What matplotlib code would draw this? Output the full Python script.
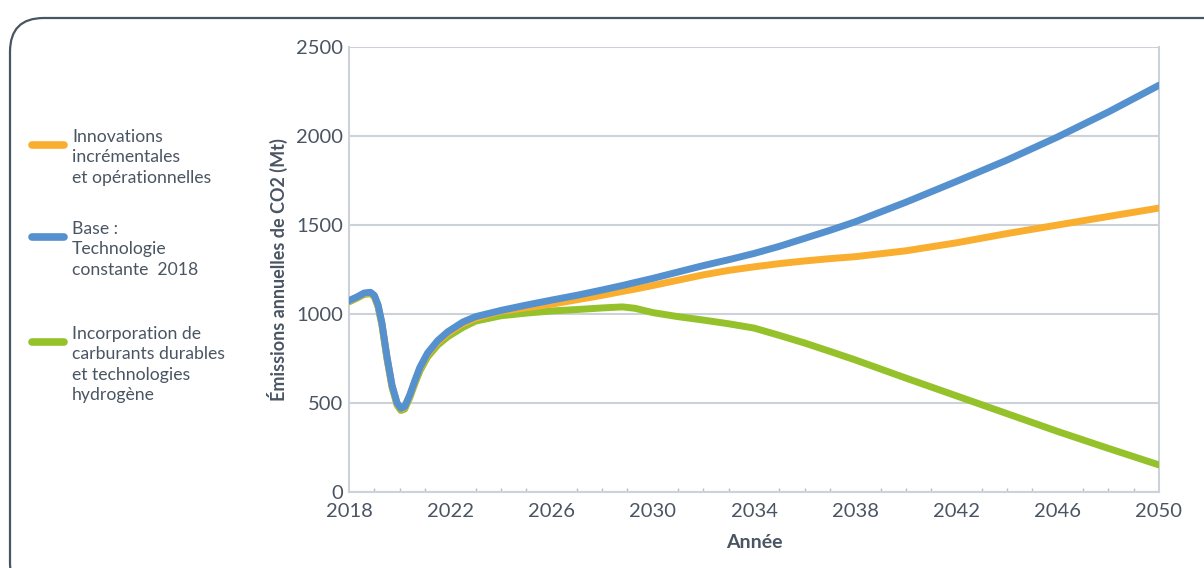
import matplotlib.pyplot as plt
from matplotlib.lines import Line2D
from matplotlib.patches import FancyBboxPatch
from matplotlib.ticker import MultipleLocator

plt.rcParams['font.family'] = ['Lato', 'DejaVu Sans']

# values (Mt CO2 per year)
years = [2018.0, 2018.3, 2018.6, 2018.85, 2019.0, 2019.15, 2019.3, 2019.5, 2019.7, 2019.9,
         2020.05, 2020.2, 2020.4, 2020.6, 2020.8, 2021.1, 2021.5, 2021.9, 2022.5, 2023,
         2024, 2025, 2026, 2027, 2028, 2028.8, 2029.3, 2030, 2031, 2032,
         2033, 2034, 2035, 2036, 2037, 2038, 2040, 2042, 2044, 2046,
         2048, 2050]
base = [1075, 1095, 1118, 1122, 1105, 1050, 950, 760, 600, 500,
        470, 480, 545, 625, 700, 780, 850, 900, 955, 985,
        1020, 1050, 1078, 1105, 1135, 1160, 1177, 1200, 1236, 1272,
        1305, 1340, 1380, 1425, 1470, 1518, 1628, 1745, 1865, 1995,
        2135, 2285]
innovations = [1072, 1092, 1114, 1118, 1101, 1046, 946, 756, 596, 496,
               466, 476, 540, 620, 694, 773, 842, 891, 946, 976,
               1015, 1035, 1055, 1080, 1105, 1127, 1140, 1160, 1190, 1220,
               1245, 1265, 1283, 1298, 1311, 1322, 1355, 1400, 1452, 1500,
               1548, 1595]
carburants = [1068, 1088, 1110, 1114, 1097, 1040, 938, 748, 588, 488,
              458, 466, 530, 608, 680, 758, 825, 872, 925, 960,
              990, 1005, 1017, 1025, 1034, 1040, 1032, 1008, 985, 966,
              945, 921, 880, 837, 790, 742, 640, 540, 440, 340,
              245, 152]

labels = ['Innovations\nincrémentales\net opérationnelles',
          'Base :\nTechnologie\nconstante  2018',
          'Incorporation de\ncarburants durables\net technologies\nhydrogène']
colors = ['#f9ae2f', '#5591ce', '#95c12a']
values = [innovations, base, carburants]

txt = '#4a5563'
grid = '#cdd1da'

fig = plt.figure(figsize=(12.04, 5.68), dpi=100)
box = FancyBboxPatch((10 / 1204, -0.05), 1.2, 1.0 - 18 / 568 + 0.05,
                     boxstyle='round,pad=0,rounding_size=0.028',
                     transform=fig.transFigure, fc='none', ec='#4a5562', lw=1.6,
                     mutation_aspect=1204 / 568)
fig.add_artist(box)

ax = fig.add_axes([349 / 1204, 76 / 568, 810 / 1204, 445 / 568])
# green underneath, then orange, blue on top
for z, i in enumerate([2, 0, 1]):
    ax.plot(years, values[i], color=colors[i], lw=5, solid_capstyle='round',
            solid_joinstyle='round', zorder=3 + z)

ax.set_xlim(2018, 2050)
ax.set_ylim(0, 2500)
ax.set_xticks(range(2018, 2051, 4))
ax.xaxis.set_minor_locator(MultipleLocator(1))
ax.yaxis.set_major_locator(MultipleLocator(500))
ax.grid(axis='y', color=grid, lw=1.5, zorder=1)
for s in ['left', 'bottom', 'right']:
    ax.spines[s].set_color(grid)
    ax.spines[s].set_linewidth(1.5)
ax.spines['top'].set_visible(False)
ax.tick_params(axis='both', which='major', length=0, labelsize=14.5, labelcolor=txt)
ax.tick_params(axis='x', which='minor', direction='in', length=3, color='#b8bec9', width=1)
ax.tick_params(axis='y', pad=4)
ax.tick_params(axis='x', pad=8)
ax.set_xlabel('Année', fontsize=14, fontweight='bold', color=txt, labelpad=10)
ax.set_ylabel('Émissions annuelles de CO2 (Mt)', fontsize=13, fontweight='bold',
              color=txt, labelpad=6)

# legend on the left
legend_y = [145, 237, 342]
for y, lab, col in zip(legend_y, labels, colors):
    yf = 1 - y / 568
    fig.add_artist(Line2D([32 / 1204, 64 / 1204], [yf, yf], color=col, lw=5.5,
                          solid_capstyle='round', transform=fig.transFigure))
    fig.text(72 / 1204, 1 - (y - 16) / 568, lab, fontsize=12.7, color=txt,
             va='top', ha='left', linespacing=1.33)

fig.savefig('out.png', dpi=100)
